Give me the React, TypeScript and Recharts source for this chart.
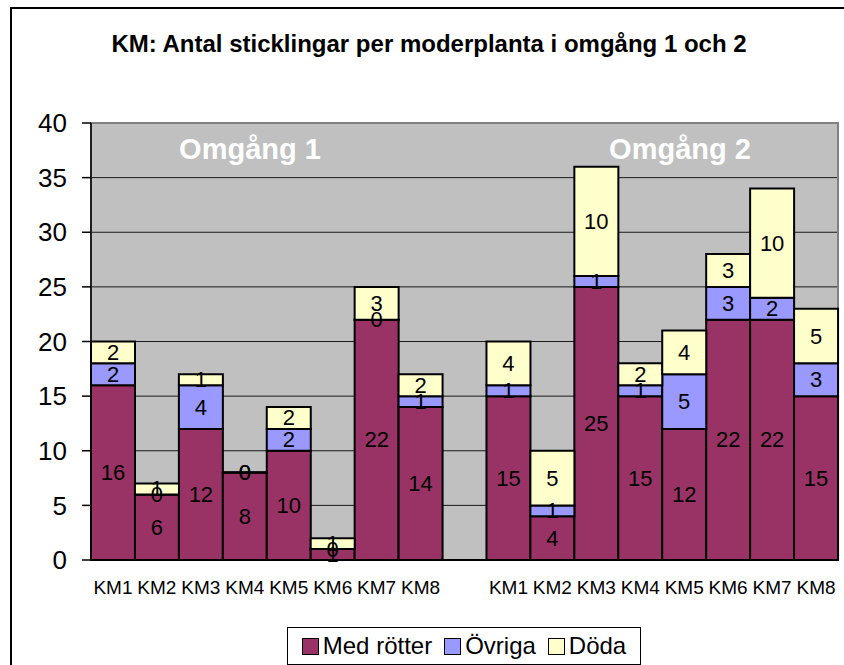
import React from "react";
import {
  BarChart,
  Bar,
  XAxis,
  YAxis,
  CartesianGrid,
  LabelList,
  ReferenceArea,
} from "recharts";

const categories = [
  "KM1", "KM2", "KM3", "KM4", "KM5", "KM6", "KM7", "KM8",
  "",
  "KM1", "KM2", "KM3", "KM4", "KM5", "KM6", "KM7", "KM8",
];

// null = empty gap slot between the two rounds
const medRotter = [16, 6, 12, 8, 10, 1, 22, 14, null, 15, 4, 25, 15, 12, 22, 22, 15];
const ovriga = [2, 0, 4, 0, 2, 0, 0, 1, null, 1, 1, 1, 1, 5, 3, 2, 3];
const doda = [2, 1, 1, 0, 2, 1, 3, 2, null, 4, 5, 10, 2, 4, 3, 10, 5];

const yTicks = [0, 5, 10, 15, 20, 25, 30, 35, 40];

const series = [
  { key: "med", name: "Med rötter", color: "#993366" },
  { key: "ovr", name: "Övriga", color: "#9999FF" },
  { key: "dod", name: "Döda", color: "#FFFFCC" },
];

const data = categories.map((name, i) => ({
  name,
  med: medRotter[i],
  ovr: ovriga[i],
  dod: doda[i],
}));

const font = '"Liberation Sans", Arial, sans-serif';

// draws the value in the middle of its segment, also for zero segments
const renderValue = (props: any) => {
  const { x, y, width, height, value } = props;
  if (value === null || value === undefined) return null;
  return (
    <text
      x={x + width / 2}
      y={y + height / 2}
      textAnchor="middle"
      dominantBaseline="central"
      fill="#000"
      fontSize={22}
      fontFamily={font}
    >
      {value}
    </text>
  );
};

export default function App() {
  return (
    <div
      style={{
        position: "absolute",
        left: 0,
        top: 0,
        width: 844,
        height: 665,
        overflow: "hidden",
        background: "#fff",
        fontFamily: font,
      }}
    >
      <div
        style={{
          position: "absolute",
          left: 10,
          top: 7,
          width: 900,
          height: 800,
          border: "2px solid #000",
        }}
      />
      <div
        style={{
          position: "absolute",
          left: 0,
          width: 858,
          top: 30,
          textAlign: "center",
          fontSize: 24,
          fontWeight: "bold",
          lineHeight: "28px",
        }}
      >
        KM: Antal sticklingar per moderplanta i omgång 1 och 2
      </div>
      <div style={{ position: "absolute", left: 0, top: 0 }}>
        <BarChart
          width={844}
          height={665}
          data={data}
          barCategoryGap={0}
          margin={{ top: 123, right: 6, left: 0, bottom: 75 }}
        >
          <CartesianGrid
            vertical={false}
            fill="#C0C0C0"
            stroke="#1a1a1a"
            strokeWidth={1}
          />
          <ReferenceArea
            y1={0}
            y2={40}
            fill="none"
            stroke="#808080"
            strokeWidth={2}
            ifOverflow="visible"
          />
          <XAxis
            dataKey="name"
            tickLine={false}
            tickSize={0}
            tickMargin={21}
            height={30}
            axisLine={{ stroke: "#000", strokeWidth: 1.5 }}
            tick={{ fill: "#000", fontSize: 19, fontFamily: font }}
            interval={0}
          />
          <YAxis
            width={91}
            domain={[0, 40]}
            ticks={yTicks}
            tickSize={9}
            tickMargin={15}
            axisLine={{ stroke: "#000", strokeWidth: 1.5 }}
            tickLine={{ stroke: "#000", strokeWidth: 1.5 }}
            tick={{ fill: "#000", fontSize: 26, fontFamily: font }}
          />
          {series.map((s) => (
            <Bar
              key={s.key}
              dataKey={s.key}
              name={s.name}
              stackId="a"
              fill={s.color}
              stroke="#000"
              strokeWidth={2}
              minPointSize={0.01}
              isAnimationActive={false}
            >
              <LabelList dataKey={s.key} content={renderValue} />
            </Bar>
          ))}
        </BarChart>
      </div>
      {[
        { text: "Omgång 1", x: 250 },
        { text: "Omgång 2", x: 680 },
      ].map((t) => (
        <div
          key={t.text}
          style={{
            position: "absolute",
            left: t.x - 100,
            width: 200,
            top: 132,
            textAlign: "center",
            color: "#fff",
            fontWeight: "bold",
            fontSize: 29,
            lineHeight: "34px",
          }}
        >
          {t.text}
        </div>
      ))}
      <div
        style={{
          position: "absolute",
          left: 287,
          top: 627,
          width: 352,
          height: 36,
          border: "1px solid #000",
          background: "#fff",
          display: "flex",
          alignItems: "center",
          justifyContent: "center",
          gap: 12,
        }}
      >
        {series.map((s) => (
          <div key={s.key} style={{ display: "flex", alignItems: "center", gap: 4 }}>
            <span
              style={{
                display: "inline-block",
                width: 15,
                height: 15,
                background: s.color,
                border: "1.5px solid #000",
              }}
            />
            <span style={{ fontSize: 24, lineHeight: "28px" }}>{s.name}</span>
          </div>
        ))}
      </div>
    </div>
  );
}
